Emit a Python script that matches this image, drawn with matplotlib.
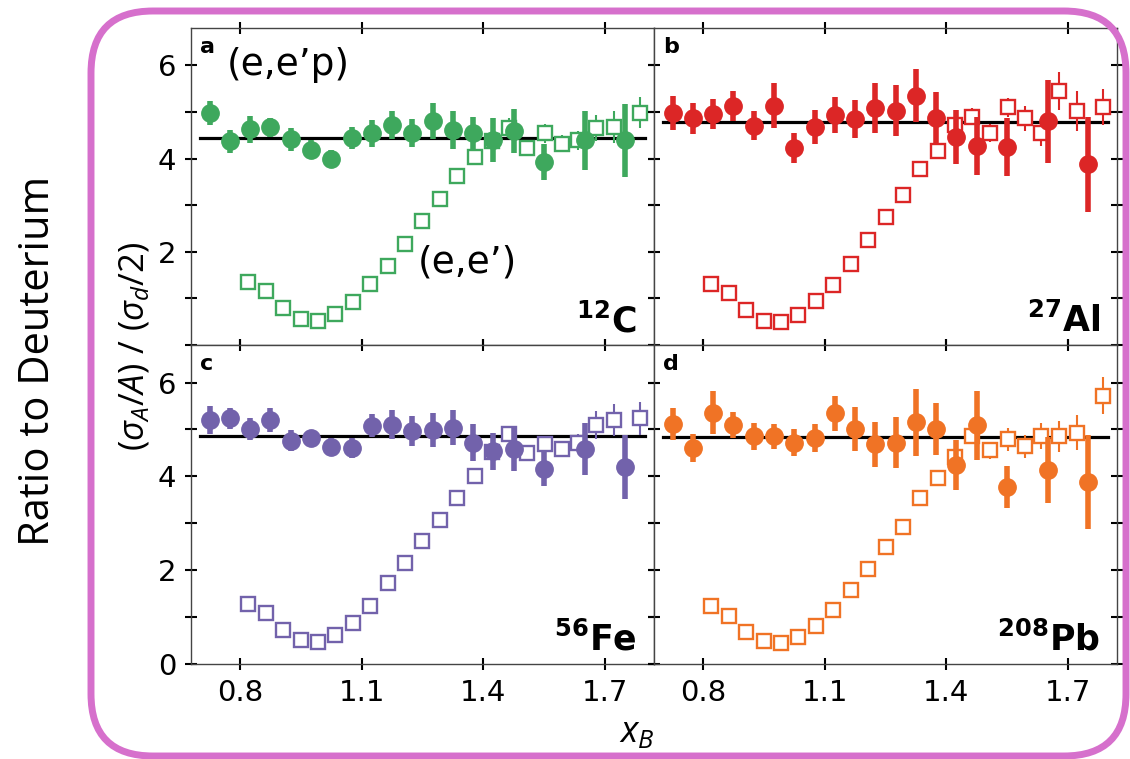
import matplotlib
matplotlib.use('Agg')
import matplotlib.pyplot as plt
from matplotlib.patches import FancyBboxPatch
from matplotlib.transforms import IdentityTransform

plt.rcParams['mathtext.fontset'] = 'custom'
plt.rcParams['mathtext.rm'] = 'Open Sans'
plt.rcParams['mathtext.it'] = 'Open Sans:italic'
plt.rcParams['mathtext.bf'] = 'Open Sans:bold'

# ---------------- data ----------------
circ_x = [0.725, 0.775, 0.825, 0.875, 0.925, 0.975, 1.025, 1.075, 1.125, 1.175,
          1.225, 1.275, 1.325, 1.375, 1.425, 1.475, 1.55, 1.65, 1.75]
sq_x = [0.82, 0.863, 0.906, 0.95, 0.992, 1.035, 1.078, 1.121, 1.164, 1.207, 1.25,
        1.293, 1.336, 1.379, 1.421, 1.463, 1.507, 1.551, 1.593, 1.634, 1.679, 1.722, 1.787]

C_eep = [4.97, 4.37, 4.63, 4.67, 4.41, 4.19, 4.00, 4.44, 4.54, 4.72, 4.54, 4.80,
         4.61, 4.54, 4.39, 4.59, 3.93, 4.39, 4.39]
C_eep_err = [0.26, 0.25, 0.29, 0.20, 0.24, 0.20, 0.19, 0.24, 0.29, 0.31, 0.30, 0.39,
             0.41, 0.35, 0.47, 0.48, 0.38, 0.63, 0.79]
C_ee = [1.35, 1.15, 0.79, 0.56, 0.51, 0.67, 0.93, 1.31, 1.69, 2.16, 2.66, 3.14, 3.63,
        4.04, 4.37, 4.66, 4.23, 4.54, 4.32, 4.39, 4.66, 4.68, 4.98]
C_ee_err = [0.02] * 13 + [0.05, 0.10, 0.20, 0.12, 0.20, 0.18, 0.20, 0.28, 0.34, 0.33]
C_avg = 4.45

Al_eep = [4.98, 4.86, 4.95, 5.13, 4.70, 5.13, 4.23, 4.68, 4.93, 4.84, 5.08, 5.03,
          5.35, 4.86, 4.47, 4.27, 4.24, 4.80, 3.88]
Al_eep_err = [0.36, 0.33, 0.32, 0.32, 0.31, 0.48, 0.32, 0.37, 0.38, 0.41, 0.53, 0.54,
              0.57, 0.57, 0.58, 0.63, 0.62, 0.89, 1.02]
Al_ee = [1.30, 1.12, 0.75, 0.52, 0.50, 0.65, 0.94, 1.28, 1.74, 2.26, 2.75, 3.21, 3.77,
         4.16, 4.72, 4.90, 4.55, 5.10, 4.86, 4.54, 5.45, 5.02, 5.11]
Al_ee_err = [0.02] * 13 + [0.05, 0.17, 0.19, 0.19, 0.20, 0.27, 0.27, 0.40, 0.43, 0.39]
Al_avg = 4.78

Fe_eep = [5.20, 5.24, 5.01, 5.20, 4.76, 4.81, 4.63, 4.60, 5.08, 5.10, 4.97, 4.99,
          5.04, 4.72, 4.53, 4.58, 4.15, 4.58, 4.20]
Fe_eep_err = [0.29, 0.22, 0.24, 0.26, 0.23, 0.18, 0.18, 0.21, 0.25, 0.31, 0.32, 0.36,
              0.37, 0.39, 0.40, 0.47, 0.36, 0.55, 0.68]
Fe_ee = [1.28, 1.08, 0.73, 0.51, 0.46, 0.62, 0.88, 1.23, 1.73, 2.15, 2.62, 3.06, 3.54,
         4.01, 4.52, 4.91, 4.49, 4.68, 4.59, 4.72, 5.09, 5.20, 5.24]
Fe_ee_err = [0.02] * 13 + [0.05, 0.10, 0.12, 0.12, 0.15, 0.15, 0.18, 0.30, 0.35, 0.35]
Fe_avg = 4.86

Pb_eep = [5.11, 4.60, 5.36, 5.10, 4.85, 4.85, 4.72, 4.81, 5.34, 5.01, 4.68, 4.72,
          5.15, 5.01, 4.24, 5.09, 3.78, 4.13, 3.88]
Pb_eep_err = [0.34, 0.30, 0.46, 0.28, 0.28, 0.27, 0.28, 0.30, 0.37, 0.46, 0.48, 0.55,
              0.71, 0.56, 0.53, 0.74, 0.45, 0.70, 1.01]
Pb_ee = [1.23, 1.03, 0.68, 0.48, 0.44, 0.57, 0.82, 1.16, 1.58, 2.03, 2.50, 2.92, 3.53,
         3.97, 4.42, 4.86, 4.56, 4.79, 4.64, 4.86, 4.85, 4.93, 5.72]
Pb_ee_err = [0.02] * 13 + [0.05, 0.10, 0.15, 0.18, 0.24, 0.24, 0.28, 0.34, 0.37, 0.39]
Pb_avg = 4.84

avg_x = [0.70, 1.80]
x_ticks = [0.8, 1.1, 1.4, 1.7]
x_ticklabels = ['0.8', '1.1', '1.4', '1.7']
y_ticks = [0, 1, 2, 3, 4, 5, 6]

panels = [
    ('a', r'$\mathbf{^{12}C}$', C_eep, C_eep_err, C_ee, C_ee_err, C_avg, '#3ea85d'),
    ('b', r'$\mathbf{^{27}Al}$', Al_eep, Al_eep_err, Al_ee, Al_ee_err, Al_avg, '#dc2626'),
    ('c', r'$\mathbf{^{56}Fe}$', Fe_eep, Fe_eep_err, Fe_ee, Fe_ee_err, Fe_avg, '#7262ab'),
    ('d', r'$\mathbf{^{208}Pb}$', Pb_eep, Pb_eep_err, Pb_ee, Pb_ee_err, Pb_avg, '#f07325'),
]

# ---------------- figure ----------------
W, H = 1130, 759
fig = plt.figure(figsize=(W / 100, H / 100), dpi=100)


def rect(l, t, r, b):
    return [l / W, 1 - b / H, (r - l) / W, (b - t) / H]


boxes = [rect(191, 28, 654, 345), rect(654, 28, 1117, 345),
         rect(191, 345, 654, 664), rect(654, 345, 1117, 664)]

for i, (box, p) in enumerate(zip(boxes, panels)):
    letter, nuc, cy, ce, sy, se, avg, col = p
    ax = fig.add_axes(box)
    ax.plot(avg_x, [avg, avg], color='black', lw=2.3, zorder=2)
    ax.errorbar(sq_x, sy, yerr=se, fmt='s', ms=10.3, mfc='white', mec=col, mew=1.7,
                ecolor=col, elinewidth=1.5, capsize=0, zorder=3)
    ax.errorbar(circ_x, cy, yerr=ce, fmt='o', ms=12.5, color=col, mec=col,
                elinewidth=4.0, capsize=0, zorder=4)
    ax.set_xlim(0.679, 1.821)
    ax.set_ylim(0, 6.8)
    ax.set_xticks(x_ticks)
    ax.set_yticks(y_ticks)
    ax.tick_params(direction='inout', length=9, width=1.5, labelsize=21,
                   top=True, right=True, pad=6, color='black')
    for s in ax.spines.values():
        s.set_linewidth(1.0)
        s.set_color('#444444')
    if i in (2, 3):
        ax.set_xticklabels(x_ticklabels)
    else:
        ax.set_xticklabels([])
    if i in (0, 2):
        labs = ['' if (v % 2) else str(v) for v in y_ticks]
        if i == 0:
            labs[0] = ''
        ax.set_yticklabels(labs)
    else:
        ax.set_yticklabels([])
    ax.text(0.02, 0.972, letter, transform=ax.transAxes, ha='left', va='top',
            fontsize=16, fontweight='bold', family='DejaVu Sans')
    ax.text(0.963, 0.041, nuc, transform=ax.transAxes, ha='right', va='baseline',
            fontsize=25, math_fontfamily='dejavusans')
    if i == 0:
        ax.text(0.078, 0.883, '(e,e\u2019p)', transform=ax.transAxes, ha='left',
                va='center', fontsize=27, family='DejaVu Sans')
        ax.text(0.49, 0.259, '(e,e\u2019)', transform=ax.transAxes, ha='left',
                va='center', fontsize=27, family='DejaVu Sans')

fig.text(38 / W, 1 - 361 / H, 'Ratio to Deuterium', rotation=90, ha='center',
         va='center', fontsize=30, family='Open Sans')
fig.text(135 / W, 1 - 346 / H, r'$(\sigma_A/A)\ /\ (\sigma_d/2)$', rotation=90,
         ha='center', va='center', fontsize=25)
fig.text(637 / W, 1 - 733 / H, r'$x_B$', ha='center', va='center', fontsize=26)

border = FancyBboxPatch((91, 759 - 756), 1126 - 91, 756 - 11,
                        boxstyle='round,pad=0,rounding_size=62',
                        transform=IdentityTransform(), fill=False,
                        edgecolor='#d670cc', lw=5)
fig.patches.append(border)

fig.savefig('out.png', dpi=100)
